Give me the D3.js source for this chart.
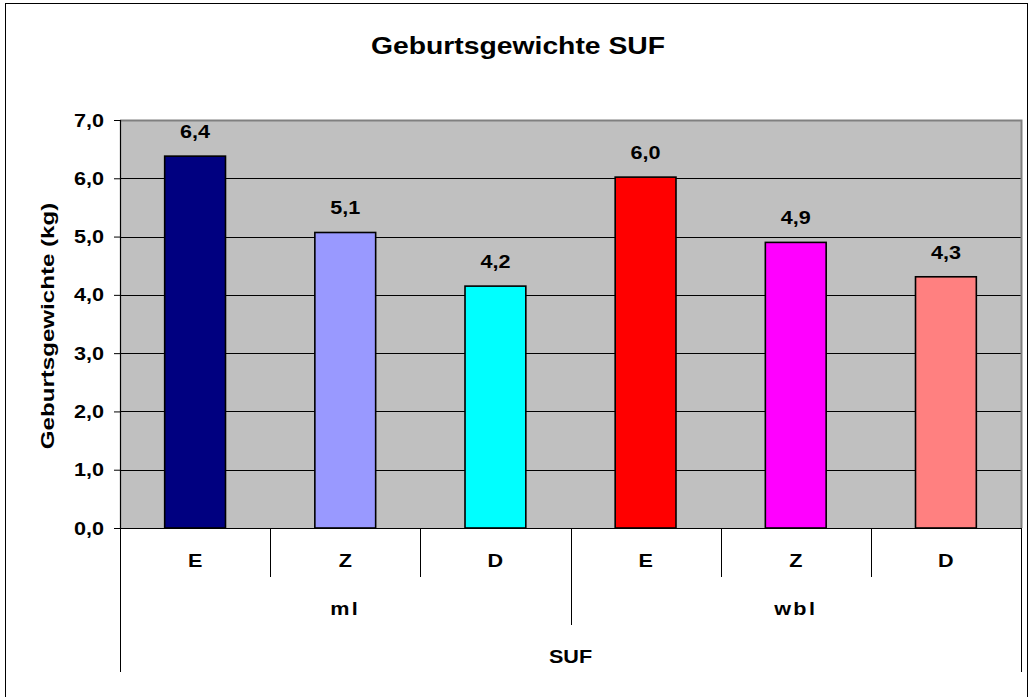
<!DOCTYPE html>
<html>
<head>
<meta charset="utf-8">
<script src="https://cdn.jsdelivr.net/npm/d3@7"></script>
<style>
  html, body { margin: 0; padding: 0; background: #fff; }
  svg text { font-family: "Liberation Sans", Arial, sans-serif; font-weight: bold; fill: #000; }
</style>
</head>
<body>
<svg id="chart" width="1032" height="697"></svg>
<script>
// ---- data ----
const categories = ["E", "Z", "D", "E", "Z", "D"];
const groups = ["ml", "wbl"];
const groupOfCategory = [0, 0, 0, 1, 1, 1];
const values = [6.38, 5.07, 4.15, 6.02, 4.90, 4.31];
const valueLabels = ["6,4", "5,1", "4,2", "6,0", "4,9", "4,3"];
const barColors = ["#000080", "#9999FF", "#00FFFF", "#FF0000", "#FF00FF", "#FF8080"];
const yTicks = [0, 1, 2, 3, 4, 5, 6, 7];
const title = "Geburtsgewichte SUF";
const yTitle = "Geburtsgewichte (kg)";
const outerLabel = "SUF";

// ---- layout ----
const svg = d3.select("#chart");
const plot = { left: 120, right: 1021, top: 120, bottom: 528 };

svg.append("rect").attr("x", 5.5).attr("y", 3.5).attr("width", 1022).attr("height", 700)
  .attr("fill", "#fff").attr("stroke", "#000").attr("stroke-width", 1);

const keys = categories.map((c, i) => i);
const x = d3.scaleBand().domain(keys).range([plot.left, plot.right])
  .paddingInner(0.595).paddingOuter(0.2975);
const y = d3.scaleLinear().domain([0, 7]).range([plot.bottom, plot.top]);
const step = x.step();
const bandStart = i => plot.left + i * step;

function stretchedText(g, str, tx, ty, size, sx, rot, anchor) {
  return g.append("text")
    .attr("transform", `translate(${tx},${ty}) rotate(${rot || 0}) scale(${sx},1)`)
    .attr("text-anchor", anchor || "middle")
    .style("font-size", size + "px")
    .text(str);
}

// plot background
svg.append("rect").attr("x", plot.left).attr("y", plot.top)
  .attr("width", plot.right - plot.left).attr("height", plot.bottom - plot.top)
  .attr("fill", "#C0C0C0");

// gridlines
svg.append("g").selectAll("line").data(yTicks.filter(t => t > 0)).join("line")
  .attr("x1", plot.left).attr("x2", plot.right)
  .attr("y1", d => Math.round(y(d)) + 0.5).attr("y2", d => Math.round(y(d)) + 0.5)
  .attr("stroke", "#000").attr("stroke-width", 1);

// plot border (top/right grey)
svg.append("path")
  .attr("d", `M${plot.left},${plot.top + 0.5}H${plot.right + 0.5}V${plot.bottom}`)
  .attr("fill", "none").attr("stroke", "#808080").attr("stroke-width", 2);

// bars
svg.append("g").selectAll("rect").data(values).join("rect")
  .attr("x", (d, i) => x(i))
  .attr("width", x.bandwidth())
  .attr("y", d => y(d))
  .attr("height", d => y(0) - y(d))
  .attr("fill", (d, i) => barColors[i])
  .attr("stroke", "#000").attr("stroke-width", 1.6);

// value labels
const lab = svg.append("g");
values.forEach((v, i) => {
  stretchedText(lab, valueLabels[i], x(i) + x.bandwidth() / 2, y(v) - 18, 18, 1.2);
});

// y axis
const yAxis = svg.append("g").attr("transform", `translate(${plot.left},0)`)
  .call(d3.axisLeft(y).tickValues(yTicks).tickSize(6).tickPadding(0).tickFormat(() => ""));
yAxis.select(".domain").attr("stroke", "#000").attr("stroke-width", 1.2);
yAxis.selectAll(".tick line").attr("stroke", "#000");
const fmt = d3.format(".1f");
yTicks.forEach(t => {
  stretchedText(svg, fmt(t).replace(".", ","), 104, y(t) + 6.5, 18, 1.2, 0, "end");
});

// x axis baseline
svg.append("line").attr("x1", plot.left - 6).attr("x2", plot.right)
  .attr("y1", plot.bottom + 0.5).attr("y2", plot.bottom + 0.5)
  .attr("stroke", "#000").attr("stroke-width", 1.2);

// hierarchical category ticks
const boundaries = d3.range(categories.length + 1);
svg.append("g").selectAll("line").data(boundaries).join("line")
  .attr("x1", d => Math.round(bandStart(d)) + 0.5).attr("x2", d => Math.round(bandStart(d)) + 0.5)
  .attr("y1", plot.bottom)
  .attr("y2", d => (d === 0 || d === categories.length) ? 672 : (d % 3 === 0 ? 625 : 577))
  .attr("stroke", "#000").attr("stroke-width", 1);

const xl = svg.append("g");
categories.forEach((c, i) => stretchedText(xl, c, bandStart(i) + step / 2, 567, 18, 1.2));
groups.forEach((g, gi) => {
  const idx = keys.filter(k => groupOfCategory[k] === gi);
  const cx = (bandStart(idx[0]) + bandStart(idx[idx.length - 1] + 1)) / 2;
  stretchedText(xl, g, cx, 615, 18, 1.2).attr("letter-spacing", "2px");
});
stretchedText(xl, outerLabel, (plot.left + plot.right) / 2, 663, 18, 1.2);

// y title
stretchedText(svg, yTitle, 54, 326, 18, 1.34, -90);

// title
stretchedText(svg, title, 518, 54, 24, 1.18);
</script>
</body>
</html>
